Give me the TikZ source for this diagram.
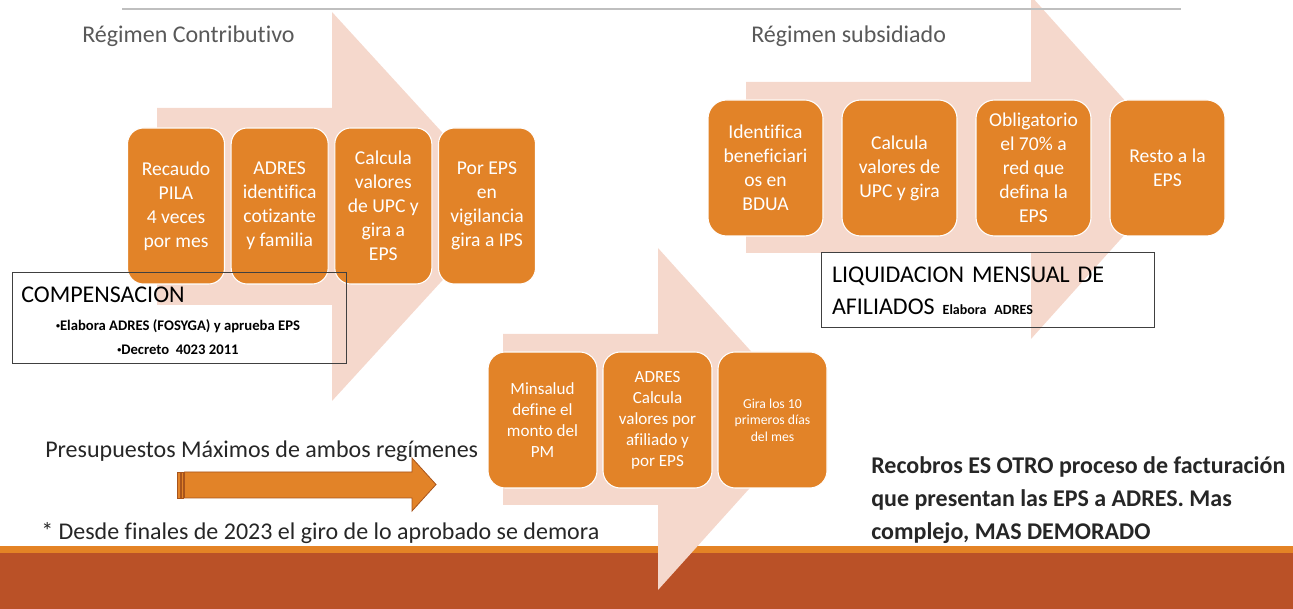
\documentclass[tikz,border=0pt]{standalone}
\usepackage{fontspec}
\setmainfont{Carlito}[Ligatures=NoCommon]
\usepackage{tikz}
\usetikzlibrary{positioning}
\usepackage{xcolor}
\definecolor{boxorange}{RGB}{226,131,40}
\definecolor{arrowpink}{RGB}{245,216,204}
\definecolor{bandorange}{RGB}{228,131,37}
\definecolor{bandrust}{RGB}{186,81,39}
\definecolor{titlegray}{RGB}{89,89,89}
\definecolor{textdark}{RGB}{38,38,38}
\definecolor{arrowedge}{RGB}{168,84,28}

\begin{document}
\begin{tikzpicture}[
    x=0.75pt, y=-0.75pt,
    node distance  = 5pt,
    stepbox/.style = {fill=boxorange, draw=white, line width=0.8pt,
                      text=white, align=center, inner sep=0pt, outer sep=0pt},
    cbox/.style    = {stepbox, minimum width=72.75pt, minimum height=117pt,
                      rounded corners=12pt, font=\fontsize{14.7}{18}\selectfont},
    sbox/.style    = {stepbox, minimum width=86.25pt, minimum height=102pt,
                      rounded corners=14pt, font=\fontsize{14.7}{18}\selectfont},
    pbox/.style    = {stepbox, minimum width=81.75pt, minimum height=102pt,
                      rounded corners=13pt, font=\fontsize{12.8}{15.75}\selectfont},
    heading/.style = {anchor=west, inner sep=0pt, text=titlegray,
                      font=\fontsize{18}{22}\selectfont},
    plain/.style   = {anchor=west, inner sep=0pt, text=textdark,
                      font=\fontsize{18}{22}\selectfont},
    infobox/.style = {draw=black!75, line width=0.75pt, inner sep=0pt, outer sep=0pt},
    bigarrow/.style = {fill=arrowpink},
    pmarrow/.style = {fill=boxorange, draw=arrowedge, line width=0.6pt},
    topline/.style = {draw=black!25, line width=1.1pt}
]
\clip (0,0) rectangle (1293,609);

\fill[bandorange] (0,546) rectangle (1293,553);
\fill[bandrust] (0,553) rectangle (1293,609);

\fill[bigarrow] (157,108) -- (332,108) -- (332,12) -- (510,206.5)
    -- (332,401) -- (332,305) -- (157,305) -- cycle;
\fill[bigarrow] (746,82) -- (1031,82) -- (1031,-4) -- (1185,167.5)
    -- (1031,339) -- (1031,253) -- (746,253) -- cycle;
\fill[bigarrow] (503,334) -- (658,334) -- (658,248) -- (812,419)
    -- (658,590) -- (658,505) -- (503,505) -- cycle;

\draw[topline] (122,9) -- (1181,9);

\node[heading] (contrib) at (82,36) {Régimen Contributivo};
\node[heading] (subsid) at (751,36) {Régimen subsidiado};

\node[cbox] (recaudo) at (176,206) {Recaudo\\PILA\\4 veces\\por mes};
\node[cbox, right=of recaudo] (identifica) {ADRES\\identifica\\cotizante\\y familia};
\node[cbox, right=of identifica] (calcula) {Calcula\\valores\\de UPC y\\gira a\\EPS};
\node[cbox, right=of calcula] (vigila) {Por EPS\\en\\vigilancia\\gira a IPS};

\node[sbox] (bdua) at (765.5,168) {Identifica\\beneficiari\\os en\\BDUA};
\node[sbox, right=14.25pt of bdua] (upc) {Calcula\\valores de\\UPC y gira};
\node[sbox, right=14.25pt of upc] (obliga) {Obligatorio\\el 70\% a\\red que\\defina la\\EPS};
\node[sbox, right=14.25pt of obliga] (resto) {Resto a la\\EPS};

\node[pbox] (minsalud) at (542.5,420) {Minsalud\\define el\\monto del\\PM};
\node[pbox, right=4.5pt of minsalud] (valores) {ADRES\\Calcula\\valores por\\afiliado y\\por EPS};
\node[pbox, right=4.5pt of valores, font=\fontsize{10.3}{12.5}\selectfont] (gira) {Gira los 10\\primeros días\\del mes};

\node[infobox, minimum width=250.5pt, minimum height=68.25pt] (comp) at (179,318.5) {};
\node[plain, text=black] (comptitle) at (21,295) {COMPENSACION};
\node[inner sep=0pt, align=center, text=black,
      font=\bfseries\fontsize{11}{18}\selectfont] (compnote) at (178,337)
    {\raisebox{1.6pt}{\fontsize{6}{6}\selectfont•}Elabora ADRES (FOSYGA) y aprueba EPS\\
     \raisebox{1.6pt}{\fontsize{6}{6}\selectfont•}Decreto\ \ 4023 2011};

\node[infobox, text width=234pt, minimum height=56.25pt, inner xsep=8pt,
      align=left, text=black, font=\fontsize{18}{24}\selectfont] (liq) at (988,290.5)
    {LIQUIDACION MENSUAL DE\\AFILIADOS {\bfseries\fontsize{10.5}{12}\selectfont Elabora ADRES}};

\node[plain] (presup) at (45,451) {Presupuestos Máximos de ambos regímenes};
\node[plain] (demora) at (41,533) {* Desde finales de 2023 el giro de lo aprobado se demora};

\filldraw[pmarrow] (177,472) rectangle (180,498);
\filldraw[pmarrow] (181.5,472) rectangle (183,498);
\filldraw[pmarrow] (184.5,472) -- (412,472) -- (412,458) -- (436,484.5)
    -- (412,511) -- (412,498) -- (184.5,498) -- cycle;

\node[plain, align=left, font=\bfseries\fontsize{18}{24.75}\selectfont] (recobros) at (871,500)
    {Recobros ES OTRO proceso de facturación\\que presentan las EPS a ADRES. Mas\\complejo, MAS DEMORADO};
\end{tikzpicture}
\end{document}
